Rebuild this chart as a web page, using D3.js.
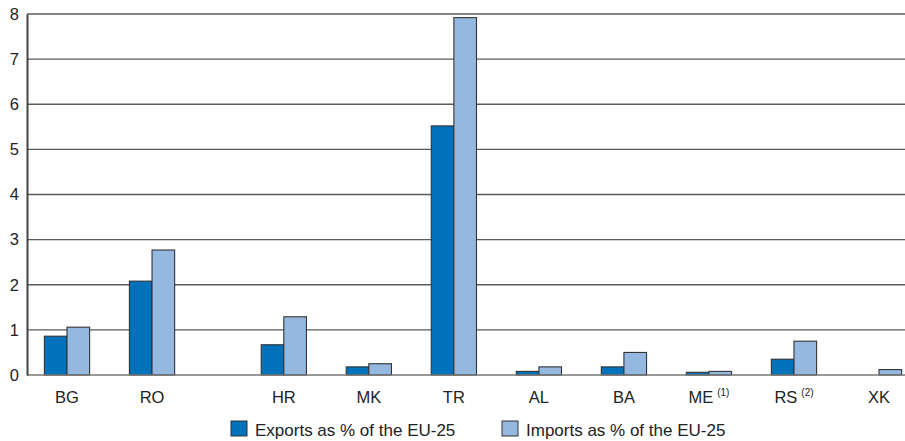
<!DOCTYPE html>
<html>
<head>
<meta charset="utf-8">
<script src="https://cdn.jsdelivr.net/npm/d3@7"></script>
<style>
  html, body { margin: 0; padding: 0; background: #fff; }
  svg { display: block; font-family: "Liberation Sans", Arial, Helvetica, sans-serif; }
</style>
</head>
<body>
<svg id="chart" width="905" height="441"></svg>
<script>
// Country groups: acceding countries, then candidate and potential candidate countries
const groupA = ["BG", "RO"];
const groupB = ["HR", "MK", "TR", "AL", "BA", "ME", "RS", "XK"];
const footnotes = { ME: "(1)", RS: "(2)" };

// Trade with the country as a share of EU-25 trade (%)
const exportsPct = [0.86, 2.08, 0.67, 0.18, 5.52, 0.08, 0.18, 0.06, 0.35, null];
const importsPct = [1.06, 2.77, 1.29, 0.25, 7.92, 0.18, 0.50, 0.08, 0.75, 0.12];

const yTicks = [0, 1, 2, 3, 4, 5, 6, 7, 8];
const seriesNames = ["Exports as % of the EU-25", "Imports as % of the EU-25"];
const seriesColors = ["#0072bc", "#95b8e0"];

const categories = groupA.concat(groupB);
// slot index: wider gap between the two groups
const slotOf = (c, i) => i + (groupA.includes(c) ? 0 : 0.55);

const W = 905, H = 441;
const plot = { left: 27, right: 905, top: 14, bottom: 375 };

const svg = d3.select("#chart");

const y = d3.scaleLinear().domain([0, 8]).range([plot.bottom, plot.top]);
const lastSlot = slotOf(categories[categories.length - 1], categories.length - 1);
const x = d3.scaleLinear().domain([0, lastSlot]).range([plot.left + 40, plot.right - 26]);
const slotW = (x(1) - x(0));
const barW = slotW * 0.266;

// gridlines
svg.append("g")
  .selectAll("line")
  .data(yTicks.filter(d => d > 0))
  .join("line")
  .attr("x1", plot.left).attr("x2", plot.right)
  .attr("y1", d => y(d)).attr("y2", d => y(d))
  .attr("stroke", "#5a5a5a").attr("stroke-width", 1.3);

// bars
const rows = categories.map((c, i) => ({ c, i, slot: slotOf(c, i), vals: [exportsPct[i], importsPct[i]] }));
const gBars = svg.append("g");
rows.forEach(r => {
  r.vals.forEach((v, k) => {
    if (v === null) return;
    gBars.append("rect")
      .attr("x", x(r.slot) - barW + k * barW)
      .attr("y", y(v))
      .attr("width", barW)
      .attr("height", y(0) - y(v))
      .attr("fill", seriesColors[k])
      .attr("stroke", "#333")
      .attr("stroke-width", 1.1);
  });
});

// baseline
svg.append("line")
  .attr("x1", plot.left).attr("x2", plot.right)
  .attr("y1", y(0)).attr("y2", y(0))
  .attr("stroke", "#777").attr("stroke-width", 1.6);

// y axis
const yAxis = d3.axisLeft(y).tickValues(yTicks).tickSize(0).tickPadding(8).tickFormat(d3.format("d"));
const gy = svg.append("g").attr("transform", `translate(${plot.left},0)`).call(yAxis);
gy.select(".domain").attr("stroke", "#444").attr("stroke-width", 2);
gy.selectAll("text")
  .attr("font-size", 16.5)
  .attr("fill", "#222")
  .attr("font-family", "Liberation Sans, Arial, sans-serif");

// category labels
const gx = svg.append("g");
rows.forEach(r => {
  const t = gx.append("text")
    .attr("x", x(r.slot))
    .attr("y", 403)
    .attr("text-anchor", "middle")
    .attr("font-size", 16.5)
    .attr("fill", "#222");
  t.append("tspan").text(r.c);
  if (footnotes[r.c]) {
    t.append("tspan").attr("dx", 4).attr("dy", -7).attr("font-size", 10).text(footnotes[r.c]);
  }
});

// legend
const legend = svg.append("g");
const legendX = [231, 502];
seriesNames.forEach((name, k) => {
  legend.append("rect")
    .attr("x", legendX[k]).attr("y", 421)
    .attr("width", 16).attr("height", 15)
    .attr("fill", seriesColors[k])
    .attr("stroke", "#333").attr("stroke-width", 1);
  legend.append("text")
    .attr("x", legendX[k] + 24).attr("y", 436)
    .attr("font-size", 17)
    .attr("fill", "#222")
    .text(name);
});
</script>
</body>
</html>
